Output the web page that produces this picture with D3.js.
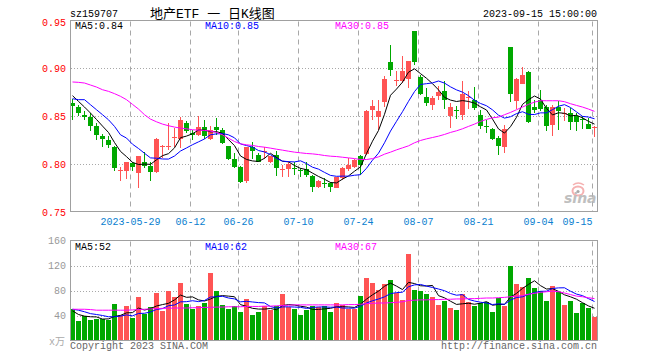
<!DOCTYPE html>
<html><head><meta charset="utf-8">
<script src="https://cdn.jsdelivr.net/npm/d3@7"></script>
<style>
html,body{margin:0;padding:0;background:#fff;}
svg{display:block;}
text{font-family:"Liberation Mono","DejaVu Sans Mono",monospace;font-size:10px;}
</style>
</head><body>
<svg id="chart" width="660" height="360"></svg>
<script>
// ---------- DATA ----------
const dates = [
"2023-05-15","2023-05-16","2023-05-17","2023-05-18","2023-05-19","2023-05-22","2023-05-23","2023-05-24","2023-05-25","2023-05-26",
"2023-05-29","2023-05-30","2023-05-31","2023-06-01","2023-06-02","2023-06-05","2023-06-06","2023-06-07","2023-06-08","2023-06-09",
"2023-06-12","2023-06-13","2023-06-14","2023-06-15","2023-06-16","2023-06-19","2023-06-20","2023-06-21","2023-06-26","2023-06-27",
"2023-06-28","2023-06-29","2023-06-30","2023-07-03","2023-07-04","2023-07-05","2023-07-06","2023-07-07","2023-07-10","2023-07-11",
"2023-07-12","2023-07-13","2023-07-14","2023-07-17","2023-07-18","2023-07-19","2023-07-20","2023-07-21","2023-07-24","2023-07-25",
"2023-07-26","2023-07-27","2023-07-28","2023-07-31","2023-08-01","2023-08-02","2023-08-03","2023-08-04","2023-08-07","2023-08-08",
"2023-08-09","2023-08-10","2023-08-11","2023-08-14","2023-08-15","2023-08-16","2023-08-17","2023-08-18","2023-08-21","2023-08-22",
"2023-08-23","2023-08-24","2023-08-25","2023-08-28","2023-08-29","2023-08-30","2023-08-31","2023-09-01","2023-09-04","2023-09-05",
"2023-09-06","2023-09-07","2023-09-08","2023-09-11","2023-09-12","2023-09-13","2023-09-14","2023-09-15"];

const opens = [.8638,.8592,.8516,.8490,.8400,.8290,.8247,.8184,.7925,.7933,
.8010,.7912,.8020,.7985,.7915,.8180,.8185,.8275,.8264,.8428,
.8324,.8299,.8387,.8264,.8387,.8359,.8191,.8052,.7975,.7821,
.8177,.8097,.8135,.8017,.8097,.7937,.7947,.7964,.7937,.7950,
.7877,.7758,.7803,.7800,.7755,.7860,.7944,.7975,.8080,.8107,
.8568,.8488,.8645,.9064,.8878,.8865,.8889,.9395,.8910,.8701,
.8620,.8708,.8760,.8498,.8568,.8516,.8700,.8673,.8516,.8403,
.8366,.8271,.8184,.9221,.8660,.8840,.8959,.8596,.8673,.8596,
.8411,.8596,.8530,.8533,.8505,.8468,.8422,.8383];
const highs = [.8683,.8620,.8550,.8530,.8430,.8310,.8290,.8190,.7968,.8027,
.8027,.8086,.8125,.8017,.8271,.8202,.8430,.8376,.8488,.8446,
.8359,.8498,.8463,.8394,.8480,.8376,.8191,.8114,.7985,.8184,
.8226,.8121,.8184,.8086,.8132,.7992,.8027,.8017,.7955,.8027,
.7887,.7835,.7853,.7818,.7870,.7975,.8062,.8052,.8097,.8568,
.8673,.8673,.8917,.9249,.8970,.9127,.9074,.9395,.8935,.8795,
.8715,.8812,.8865,.8638,.8610,.8865,.8760,.8805,.8568,.8463,
.8376,.8289,.8411,.9221,.8900,.9012,.8970,.8673,.8771,.8620,
.8620,.8655,.8586,.8586,.8533,.8498,.8480,.8394];
const lows = [.8463,.8500,.8463,.8350,.8250,.8174,.8167,.7933,.7828,.7842,
.7933,.7748,.7957,.7828,.7912,.8062,.8150,.8174,.8167,.8324,
.8247,.8289,.8261,.8254,.8306,.8212,.8045,.7964,.7800,.7800,
.8052,.8017,.8055,.8010,.7877,.7870,.7870,.7887,.7870,.7870,
.7713,.7748,.7748,.7713,.7748,.7835,.7923,.7957,.7887,.8097,
.8463,.8359,.8596,.8917,.8819,.8847,.8795,.9040,.8725,.8610,
.8568,.8666,.8578,.8376,.8470,.8463,.8578,.8568,.8366,.8330,
.8247,.8097,.8114,.8645,.8578,.8833,.8428,.8533,.8550,.8341,
.8296,.8359,.8446,.8359,.8341,.8366,.8366,.8282];
const closes = [.8610,.8533,.8488,.8400,.8300,.8265,.8200,.7964,.7935,.8027,
.7968,.8086,.7985,.7922,.8265,.8185,.8190,.8285,.8456,.8348,
.8306,.8383,.8289,.8359,.8359,.8219,.8055,.7975,.7818,.8177,
.8142,.8027,.8140,.8080,.7957,.7944,.7999,.7947,.7933,.7887,
.7765,.7825,.7800,.7765,.7863,.7964,.7992,.8045,.7992,.8558,
.8610,.8551,.8889,.8987,.8882,.8970,.9074,.9064,.8736,.8638,
.8690,.8750,.8673,.8593,.8565,.8736,.8705,.8586,.8400,.8400,
.8261,.8191,.8369,.8736,.8889,.8935,.8436,.8561,.8575,.8400,
.8596,.8550,.8533,.8436,.8436,.8463,.8366,.8387];

// volume (万手)
const volumes = [51,31,39,32.5,35,34,32.5,58,41.6,55,
36,69,42,53,76,47.5,79,69,92,58,
51,55,60,108,79.5,56.5,51,55,45,66,
40.5,45,55,49.6,56,74,53,51,40.5,48.5,
56,53,55,45,60,57.6,51,51,71.5,100,
92,80.5,90,96.5,76,64.5,138,80.5,79,74,
69,56.5,63,51.7,48.5,74,61,55,60,61,
45,68,55,119,90,85,100,84,80,63,
88,78,56.5,64,44,60,52,38];

// moving-average values read off the picture where earlier data is not shown
const ma5Head  = [0.8715,0.8655,0.8596,0.8533];
const ma10Head = [0.8683,0.8673,0.8673,0.8620,0.8568,0.8516,0.8463,0.8394,0.8306];
const ma30 = [0.8858,0.8854,0.8847,0.8826,0.8805,0.8777,0.8760,0.8736,0.8708,0.8673,
0.8624,0.8575,0.8516,0.8470,0.8442,0.8418,0.8401,0.8387,0.8376,0.8369,
0.8359,0.8355,0.8352,0.8345,0.8331,0.8306,0.8271,0.8236,0.8212,0.8202,
0.8195,0.8184,0.8177,0.8167,0.8156,0.8146,0.8135,0.8125,0.8118,0.8111,
0.8107,0.8100,0.8090,0.8083,0.8079,0.8072,0.8065,0.8058,0.8048,0.8048,
0.8058,0.8076,0.8104,0.8125,0.8149,0.8170,0.8191,0.8223,0.8247,0.8264,
0.8278,0.8292,0.8310,0.8331,0.8348,0.8369,0.8394,0.8418,0.8446,0.8467,
0.8484,0.8491,0.8516,0.8540,0.8568,0.8596,0.8624,0.8648,0.8662,0.8662,
0.8662,0.8662,0.8652,0.8631,0.8613,0.8596,0.8575,0.8551];
const vma5Head  = [47.5,41.6,39,38];
const vma10Head = [50,48.5,46,43,41.6,40,38,38,39];
const vma30 = [50,50,50,49.5,48.5,48.5,48.5,48.5,48.5,48.5,
49,49.5,50,50.5,51,51.5,51.5,52,52,52,
52.5,52.5,53,53,53.5,53.5,54,54,54,54.5,
54.5,54.5,55,55,55.5,56,56.5,57,57,57,
57,57,57,57,57,57,57.5,57.5,58,59,
59.5,60,60,60.5,61,62,64,64.5,65,65,
65.5,65.5,66,66,66.5,66.5,67,67,67.5,68,
68,68.5,69,70,71,72,74,75.5,77,78,
79,78,76,73.5,71,70,68.5,67];

const tickDates  = ["2023-05-29","2023-06-12","2023-06-26","2023-07-10","2023-07-24","2023-08-07","2023-08-21","2023-09-04","2023-09-15"];
const tickLabels = ["2023-05-29","06-12","06-26","07-10","07-24","08-07","08-21","09-04","09-15"];
const priceTicks = [0.75,0.80,0.85,0.90,0.95];
const priceGrid  = [0.80,0.85,0.90];
const volumeTicks = [40,80,120,160];
const volumeGrid  = [40,80,120];
const priceLegend  = ["MA5:0.84","MA10:0.85","MA30:0.85"];
const volumeLegend = ["MA5:52","MA10:62","MA30:67"];
const maColors = ["#000000","#0000ff","#ff00ff"];

const symbol = "sz159707";
const title = "地产ETF 一 日K线图";
const stamp = "2023-09-15 15:00:00";

// ---------- HELPERS ----------
function movingAvg(vals, n, head) {
  return vals.map((v, i) => i < n - 1 ? head[i] : d3.mean(vals.slice(i - n + 1, i + 1)));
}
const ma5 = movingAvg(closes, 5, ma5Head);
const ma10 = movingAvg(closes, 10, ma10Head);
const vma5 = movingAvg(volumes, 5, vma5Head);
const vma10 = movingAvg(volumes, 10, vma10Head);

const RED = "#ff5454", GREEN = "#00a800", GRID = "#a8a8a8", BORDER = "#a0a0a0";

const svg = d3.select("#chart");
svg.append("rect").attr("width", 660).attr("height", 360).attr("fill", "#fff");

const x = d3.scalePoint().domain(dates).range([70, 592]);
const bodyW = 5, half = 2.5;
const y = d3.scaleLinear().domain([0.75, 0.95]).range([212, 20.5]);
const yv = d3.scaleLinear().domain([0, 160]).range([340.5, 240.5]);

const rows = dates.map((d, i) => ({d, o: opens[i], h: highs[i], l: lows[i], c: closes[i], v: volumes[i]}));
const colorOf = r => r.c >= r.o ? RED : GREEN;
const snap = v => Math.round(v) + 0.5;

// ---------- PANELS (grid) ----------
function panelGrid(top, bottom, yScale, gridVals) {
  const g = svg.append("g");
  g.selectAll("line.hg").data(gridVals).join("line")
    .attr("x1", 71).attr("x2", 597).attr("y1", v => snap(yScale(v))).attr("y2", v => snap(yScale(v)))
    .attr("stroke", GRID).attr("stroke-dasharray", "1,2");
  g.selectAll("line.vg").data(tickDates).join("line")
    .attr("x1", d => x(d) + 0.5).attr("x2", d => x(d) + 0.5)
    .attr("y1", top + 1).attr("y2", bottom)
    .attr("stroke", GRID).attr("stroke-dasharray", "5,4");
}
panelGrid(20.5, 211.5, y, priceGrid);
panelGrid(240.5, 340.5, yv, volumeGrid);

// ---------- CANDLES ----------
const cg = svg.append("g").attr("shape-rendering", "crispEdges");
cg.selectAll("line.wick").data(rows).join("line")
  .attr("x1", r => x(r.d) + half).attr("x2", r => x(r.d) + half)
  .attr("y1", r => y(r.h)).attr("y2", r => y(r.l))
  .attr("stroke", colorOf);
cg.selectAll("rect.body").data(rows).join("rect")
  .attr("x", r => x(r.d)).attr("width", bodyW)
  .attr("y", r => y(Math.max(r.o, r.c)))
  .attr("height", r => Math.max(1, Math.abs(y(r.o) - y(r.c))))
  .attr("fill", colorOf);

// ---------- VOLUME BARS ----------
svg.append("g").attr("shape-rendering", "crispEdges")
  .selectAll("rect").data(rows).join("rect")
  .attr("x", r => x(r.d)).attr("width", bodyW)
  .attr("y", r => yv(r.v)).attr("height", r => yv(0) - yv(r.v))
  .attr("fill", colorOf);

// ---------- MA LINES ----------
function drawLine(vals, scale, color) {
  const line = d3.line().x((v, i) => x(dates[i]) + half).y(v => scale(v));
  svg.append("path").datum(vals).attr("d", line)
    .attr("fill", "none").attr("stroke", color).attr("stroke-width", 1);
}
[ma5, ma10, ma30].forEach((s, k) => drawLine(s, y, maColors[k]));
[vma5, vma10, vma30].forEach((s, k) => drawLine(s, yv, maColors[k]));

// ---------- BORDERS ----------
svg.append("rect").attr("x", 70.5).attr("y", 20.5).attr("width", 527).attr("height", 191)
  .attr("fill", "none").attr("stroke", BORDER);
svg.append("rect").attr("x", 70.5).attr("y", 240.5).attr("width", 527).attr("height", 100)
  .attr("fill", "none").attr("stroke", BORDER);

// ---------- AXES ----------
const ya = svg.append("g").attr("transform", "translate(70,0)")
  .call(d3.axisLeft(y).tickValues(priceTicks).tickSize(0).tickPadding(4).tickFormat(d3.format(".2f")));
ya.select(".domain").remove();
ya.selectAll("text").attr("fill", "#ff0000");
ya.selectAll(".tick").filter(d => d === 0.95).select("text").attr("dy", "0.5em");

const yva = svg.append("g").attr("transform", "translate(70,0)")
  .call(d3.axisLeft(yv).tickValues(volumeTicks).tickSize(0).tickPadding(4).tickFormat(d3.format("d")));
yva.select(".domain").remove();
yva.selectAll("text").attr("fill", "#999");

const xa = svg.append("g").attr("transform", "translate(0,212)")
  .call(d3.axisBottom(x).tickValues(tickDates).tickSize(0).tickPadding(6)
    .tickFormat(d => tickLabels[tickDates.indexOf(d)]));
xa.select(".domain").remove();
xa.selectAll("text").attr("fill", "#0a80d0");
xa.selectAll(".tick").filter(d => d === tickDates[tickDates.length - 1]).select("text").attr("text-anchor", "end");

// ---------- LEGENDS ----------
const legX = [75, 205, 335];
svg.selectAll("text.pleg").data(priceLegend).join("text").attr("class", "pleg")
  .attr("x", (d, i) => legX[i]).attr("y", 29).attr("fill", (d, i) => maColors[i]).text(d => d);
svg.selectAll("text.vleg").data(volumeLegend).join("text").attr("class", "vleg")
  .attr("x", (d, i) => legX[i]).attr("y", 250).attr("fill", (d, i) => maColors[i]).text(d => d);

// ---------- HEADER / FOOTER ----------
svg.append("text").attr("x", 70).attr("y", 17).attr("fill", "#000").text(symbol);
svg.append("text").attr("x", 150).attr("y", 18).attr("fill", "#000")
  .style("font-size", "13px").style("font-family", "'Liberation Mono','Noto Sans CJK SC',monospace").text(title);
svg.append("text").attr("x", 597).attr("y", 17).attr("text-anchor", "end").attr("fill", "#000").text(stamp);

svg.append("text").attr("x", 49).attr("y", 345).attr("fill", "#aaa")
  .style("font-family", "'Liberation Mono','Noto Sans CJK SC',monospace").text("x万");
svg.append("text").attr("x", 70).attr("y", 349).attr("fill", "#666").text("Copyright 2023 SINA.COM");
svg.append("text").attr("x", 597).attr("y", 349).attr("text-anchor", "end").attr("fill", "#666").text("http://finance.sina.com.cn");

// ---------- WATERMARK ----------
const wm = svg.append("g").attr("opacity", 0.85);
wm.append("ellipse").attr("cx", 578).attr("cy", 191).attr("rx", 5.5).attr("ry", 4.5)
  .attr("fill", "none").attr("stroke", "#f4a4a4").attr("stroke-width", 2);
wm.append("circle").attr("cx", 578).attr("cy", 191.5).attr("r", 1.6).attr("fill", "#999");
wm.append("path").attr("d", "M573,185 Q578,181 584,185").attr("fill", "none").attr("stroke", "#f4a4a4").attr("stroke-width", 1.5);
wm.append("text").attr("x", 564).attr("y", 203).attr("fill", "#b4b4b4")
  .style("font-family", "'DejaVu Sans',sans-serif").style("font-size", "14px")
  .style("font-style", "italic").style("font-weight", "bold").text("sina");
</script>
</body></html>
